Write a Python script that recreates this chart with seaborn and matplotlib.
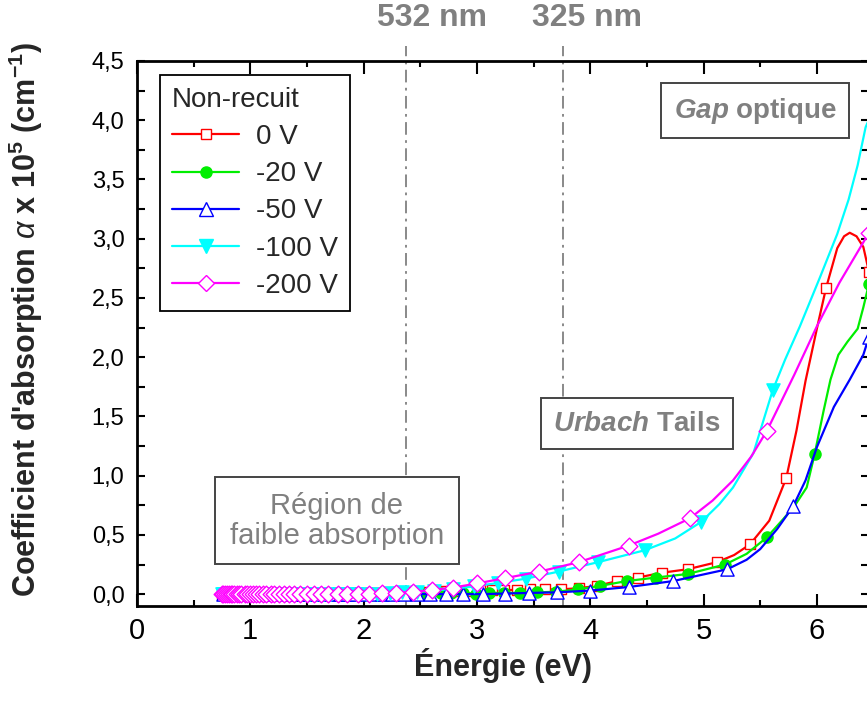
import pandas as pd
import seaborn as sns
import matplotlib.pyplot as plt
from matplotlib.lines import Line2D
from matplotlib.ticker import MultipleLocator, FuncFormatter

# ---------------- donnees ----------------
# energie (eV) et coefficient d'absorption (x 1e5 cm-1) aux symboles
e_0v = [0.75, 0.80, 0.85, 0.90, 0.95, 1.00, 1.05, 1.10, 1.15, 1.20, 1.25, 1.30, 1.35, 1.40, 1.45,
        1.50, 1.55, 1.60, 1.66, 1.72, 1.78, 1.84, 1.90, 1.95, 2.01, 2.06, 2.10, 2.15, 2.20, 2.25,
        2.30, 2.36, 2.42, 2.48, 2.55, 2.62, 2.69, 2.77, 2.85, 2.94, 3.03, 3.13, 3.24, 3.35, 3.47,
        3.60, 3.74, 3.90, 4.06, 4.24, 4.42, 4.63, 4.86, 5.12, 5.41, 5.73, 6.08, 6.46]
a_0v = [0.00, 0.00, 0.00, 0.00, 0.00, 0.00, 0.00, 0.00, 0.00, 0.00, 0.00, 0.00, 0.00, 0.00, 0.00,
        0.00, 0.00, 0.00, 0.00, 0.00, 0.01, 0.01, 0.01, 0.01, 0.01, 0.01, 0.01, 0.01, 0.01, 0.01,
        0.02, 0.02, 0.02, 0.02, 0.02, 0.03, 0.03, 0.03, 0.03, 0.03, 0.035, 0.035, 0.035, 0.035, 0.04,
        0.04, 0.04, 0.05, 0.07, 0.11, 0.14, 0.18, 0.21, 0.27, 0.42, 0.98, 2.58, 2.72]
# points de courbe supplementaires (entre les symboles)
e_0v_line = [5.27, 5.58, 5.82, 5.90, 6.00, 6.18, 6.24, 6.29, 6.35, 6.41]
a_0v_line = [0.33, 0.62, 1.38, 1.80, 2.24, 2.92, 3.02, 3.05, 3.02, 2.93]

e_20v = [0.77, 0.82, 0.87, 0.92, 0.97, 1.02, 1.07, 1.12, 1.17, 1.22, 1.27, 1.32, 1.37, 1.42, 1.47,
         1.53, 1.59, 1.65, 1.71, 1.77, 1.83, 1.90, 1.97, 2.04, 2.10, 2.16, 2.22, 2.28, 2.35, 2.43,
         2.51, 2.59, 2.68, 2.77, 2.88, 2.99, 3.11, 3.24, 3.38, 3.53, 3.70, 3.89, 4.09, 4.32, 4.58,
         4.86, 5.19, 5.56, 5.98, 6.46]
a_20v = [0.00, 0.00, 0.00, 0.00, 0.00, 0.00, 0.00, 0.00, 0.00, 0.00, 0.00, 0.00, 0.00, 0.00, 0.00,
         0.00, 0.00, 0.00, 0.00, 0.00, 0.00, 0.00, 0.00, 0.00, 0.00, 0.00, 0.005, 0.005, 0.005, 0.005,
         0.01, 0.01, 0.01, 0.01, 0.01, 0.005, 0.01, 0.01, 0.01, 0.015, 0.02, 0.04, 0.07, 0.11, 0.14,
         0.17, 0.25, 0.48, 1.18, 2.62]
e_20v_line = [5.38, 5.70, 5.80, 5.91, 6.06, 6.12, 6.19, 6.27, 6.36, 6.41]
a_20v_line = [0.34, 0.63, 0.74, 0.90, 1.55, 1.81, 2.02, 2.13, 2.24, 2.42]

e_50v = [0.76, 0.80, 0.85, 0.89, 0.94, 0.98, 1.04, 1.08, 1.13, 1.18, 1.23, 1.29, 1.33, 1.36, 1.40,
         1.44, 1.48, 1.52, 1.57, 1.62, 1.67, 1.73, 1.79, 1.85, 1.92, 1.99, 2.07, 2.16, 2.25, 2.36,
         2.47, 2.59, 2.73, 2.88, 3.05, 3.25, 3.46, 3.71, 4.00, 4.34, 4.73, 5.21, 5.79, 6.46]
a_50v = [0.00, 0.00, 0.00, 0.00, 0.00, 0.00, 0.00, 0.00, 0.00, 0.00, 0.00, 0.00, 0.00, 0.00, 0.00,
         0.00, 0.00, 0.00, 0.00, 0.00, 0.00, 0.00, 0.00, 0.00, 0.00, 0.00, 0.00, 0.00, 0.00, 0.00,
         0.00, 0.00, 0.00, 0.00, 0.00, 0.005, 0.01, 0.015, 0.03, 0.06, 0.11, 0.21, 0.74, 2.17]
e_50v_line = [5.38, 5.50, 5.65, 5.90, 6.00, 6.15, 6.29, 6.41]
a_50v_line = [0.29, 0.38, 0.55, 0.96, 1.24, 1.58, 1.81, 2.02]

e_100v = [0.75, 0.76, 0.78, 0.79, 0.81, 0.82, 0.84, 0.85, 0.87, 0.89, 0.91, 0.92, 0.94, 0.96, 0.99,
          1.01, 1.03, 1.06, 1.08, 1.11, 1.14, 1.17, 1.20, 1.23, 1.27, 1.31, 1.35, 1.39, 1.43, 1.48,
          1.53, 1.59, 1.65, 1.71, 1.78, 1.85, 1.93, 2.02, 2.12, 2.23, 2.34, 2.47, 2.62, 2.79, 2.97,
          3.19, 3.43, 3.72, 4.07, 4.48, 4.98, 5.61]
a_100v = [0.00, 0.00, 0.00, 0.00, 0.00, 0.00, 0.00, 0.00, 0.00, 0.00, 0.00, 0.00, 0.00, 0.00, 0.00,
          0.00, 0.00, 0.00, 0.00, 0.00, 0.00, 0.00, 0.00, 0.00, 0.00, 0.00, 0.00, 0.00, 0.00, 0.00,
          0.00, 0.00, 0.00, 0.00, 0.00, 0.00, 0.00, 0.00, 0.00, 0.01, 0.015, 0.02, 0.03, 0.045, 0.065,
          0.095, 0.13, 0.19, 0.27, 0.37, 0.61, 1.72]
e_100v_line = [4.75, 5.14, 5.26, 5.44, 5.72, 5.85, 6.03, 6.18, 6.28, 6.36, 6.43, 6.47]
a_100v_line = [0.47, 0.76, 0.90, 1.19, 1.98, 2.26, 2.68, 3.04, 3.33, 3.62, 3.94, 4.03]

e_200v = [0.75, 0.76, 0.78, 0.79, 0.81, 0.83, 0.84, 0.86, 0.88, 0.90, 0.92, 0.95, 0.97, 1.00, 1.02,
          1.05, 1.08, 1.11, 1.14, 1.18, 1.21, 1.25, 1.30, 1.34, 1.39, 1.44, 1.50, 1.56, 1.62, 1.69,
          1.77, 1.85, 1.95, 2.05, 2.16, 2.29, 2.44, 2.60, 2.79, 3.00, 3.25, 3.55, 3.90, 4.34, 4.88,
          5.56, 6.46]
a_200v = [0.00, 0.00, 0.00, 0.00, 0.00, 0.00, 0.00, 0.00, 0.00, 0.00, 0.00, 0.00, 0.00, 0.00, 0.00,
          0.00, 0.00, 0.00, 0.00, 0.00, 0.00, 0.00, 0.00, 0.00, 0.00, 0.00, 0.00, 0.00, 0.00, 0.00,
          0.00, 0.00, 0.00, 0.005, 0.01, 0.01, 0.02, 0.035, 0.055, 0.09, 0.135, 0.19, 0.27, 0.41, 0.64,
          1.38, 3.05]
e_200v_line = [4.60, 5.08, 5.26, 5.42, 5.80, 6.00, 6.20]
a_200v_line = [0.51, 0.79, 0.96, 1.16, 1.85, 2.26, 2.63]

labels = ["0 V", "-20 V", "-50 V", "-100 V", "-200 V"]
couleurs = ["#ff0000", "#00ee00", "#0000ff", "#00ffff", "#ff00ff"]
marqueurs = ["s", "o", "^", "v", "D"]
pleins = [False, True, False, True, False]
tailles = [7.5, 8, 9.5, 9.5, 8.5]

donnees = [(e_0v, a_0v, e_0v_line, a_0v_line),
           (e_20v, a_20v, e_20v_line, a_20v_line),
           (e_50v, a_50v, e_50v_line, a_50v_line),
           (e_100v, a_100v, e_100v_line, a_100v_line),
           (e_200v, a_200v, e_200v_line, a_200v_line)]

# longueurs d'onde des lasers (eV)
e_532 = 2.37
e_325 = 3.76

# ---------------- style ----------------
sns.set_theme(style="ticks")
plt.rcParams["font.family"] = ["Liberation Sans", "DejaVu Sans"]
plt.rcParams["mathtext.fontset"] = "custom"
plt.rcParams["mathtext.rm"] = "Liberation Sans"
plt.rcParams["mathtext.it"] = "Liberation Sans:italic"
plt.rcParams["mathtext.bf"] = "Liberation Sans:bold"
plt.rcParams["mathtext.bfit"] = "Liberation Sans:italic:bold"

fig = plt.figure(figsize=(8.67, 7.07), dpi=100)
ax = fig.add_axes([0.158, 0.1429, 0.8443, 0.7709])

# ---------------- courbes ----------------
for i, (e, a, el, al) in enumerate(donnees):
    c = couleurs[i]
    ligne = pd.DataFrame({"E": e + el, "a": a + al}).sort_values("E")
    sns.lineplot(data=ligne, x="E", y="a", ax=ax, color=c, linewidth=1.6,
                 estimator=None, sort=True, zorder=2 + 2 * i, legend=False)
    sns.scatterplot(x=e, y=a, ax=ax, marker=marqueurs[i], s=tailles[i] ** 2,
                    facecolor=c if pleins[i] else "white", edgecolor=c,
                    linewidth=1.0, zorder=3 + 2 * i, legend=False)

# lignes verticales 532 nm / 325 nm
gris = "#808080"
for ev in (e_532, e_325):
    ax.plot([ev, ev], [-0.1, 4.63], color=gris, lw=1.3,
            linestyle=(0, (7, 3, 1.5, 3)), clip_on=False, zorder=1)
ax.text(2.6, 4.86, "532 nm", color=gris, fontsize=23, fontweight="bold",
        ha="center", va="center", clip_on=False)
ax.text(3.97, 4.86, "325 nm", color=gris, fontsize=23, fontweight="bold",
        ha="center", va="center", clip_on=False)

# boites de texte
boite = dict(boxstyle="square,pad=0.45", fc="white", ec="#444444", lw=1.4)
ax.text(5.455, 4.08, r"$\mathbfit{Gap}$ optique", color=gris, fontsize=20,
        fontweight="bold", ha="center", va="center", bbox=boite, zorder=20)
ax.text(4.41, 1.44, r"$\mathbfit{Urbach}$ Tails", color=gris, fontsize=20,
        fontweight="bold", ha="center", va="center", bbox=boite, zorder=20)
ax.text(1.765, 0.62, "Région de\nfaible absorption", color=gris, fontsize=21,
        ha="center", va="center", linespacing=1.1,
        bbox=dict(boxstyle="square,pad=0.5", fc="white", ec="#444444", lw=1.4), zorder=20)

# ---------------- axes ----------------
ax.set_xlim(0, 6.46)
ax.set_ylim(-0.1, 4.5)
ax.xaxis.set_major_locator(MultipleLocator(1))
ax.xaxis.set_minor_locator(MultipleLocator(0.5))
ax.yaxis.set_major_locator(MultipleLocator(0.5))
ax.yaxis.set_minor_locator(MultipleLocator(0.25))
ax.yaxis.set_major_formatter(FuncFormatter(lambda v, p: f"{v:.1f}".replace(".", ",")))
ax.tick_params(which="both", direction="in", top=True, right=True, width=1.5, colors="black")
ax.tick_params(axis="x", which="major", length=9, labelsize=21, pad=8)
ax.tick_params(axis="x", which="minor", length=4.5)
ax.tick_params(axis="y", which="major", length=6, labelsize=17, pad=9)
ax.tick_params(axis="y", which="minor", length=6)
for sp in ax.spines.values():
    sp.set_linewidth(2)
    sp.set_color("black")

ax.set_xlabel("Énergie (eV)", fontsize=22, fontweight="bold", labelpad=2)
ax.set_ylabel(r"Coefficient d'absorption $\alpha$ x 10$^{\mathbf{5}}$ (cm$^{\mathbf{-1}}$)",
              fontsize=22, fontweight="bold")
ax.yaxis.set_label_coords(-0.125, 0.525)

# legende
poignees = [Line2D([0], [0], color=couleurs[i], lw=1.6, marker=marqueurs[i],
                   markersize=tailles[i], markerfacecolor=couleurs[i] if pleins[i] else "white",
                   markeredgecolor=couleurs[i], markeredgewidth=1.0) for i in range(5)]
leg = ax.legend(poignees, labels, title="Non-recuit", loc="upper left",
                bbox_to_anchor=(0.031, 0.975), borderaxespad=0, fontsize=20, title_fontsize=20,
                frameon=True, fancybox=False, framealpha=1, edgecolor="black",
                handlelength=2.4, handletextpad=0.6, labelspacing=0.4,
                borderpad=0.45, alignment="left")
leg.get_frame().set_linewidth(1.3)
leg.set_zorder(30)

fig.savefig("out.png", dpi=100)
